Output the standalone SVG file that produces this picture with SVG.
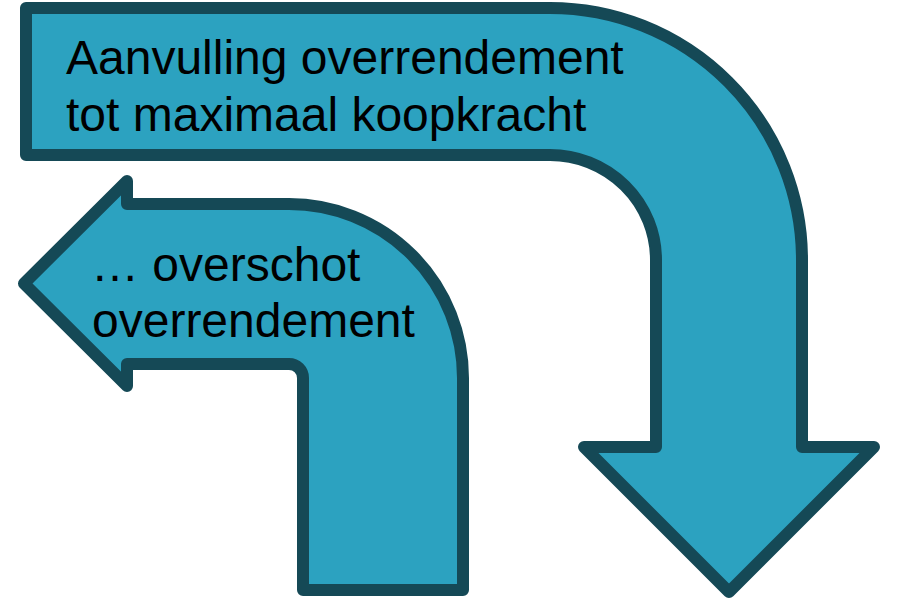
<svg xmlns="http://www.w3.org/2000/svg" width="898" height="599" viewBox="0 0 898 599">
<style>
.arrow{fill:#2ca2c0;stroke:#154956;stroke-width:12;stroke-linejoin:round}
.lbl{font-family:"Liberation Sans",Arial,sans-serif;font-size:48px;fill:#000}
</style>
<rect width="898" height="599" fill="#fff"/>
<g id="arrow-down">
<path class="arrow" d="M26 8 H550 A252 252 0 0 1 802 260 V447 H874 L729 592 L584 447 H656 V260 A106 105 0 0 0 550 155 H26 Z"/>
<text class="lbl" x="66" y="74">Aanvulling overrendement</text>
<text class="lbl" x="66" y="131">tot maximaal koopkracht</text>
</g>
<g id="arrow-left">
<path class="arrow" d="M463 590 V378 A174 174 0 0 0 289 204 H127 V181 L24 283.5 L127 386 V364 H289 A14 14 0 0 1 303 378 V590 Z"/>
<text class="lbl" x="91" y="281">… overschot</text>
<text class="lbl" x="92" y="337">overrendement</text>
</g>
<g id="connectors"/>
</svg>
